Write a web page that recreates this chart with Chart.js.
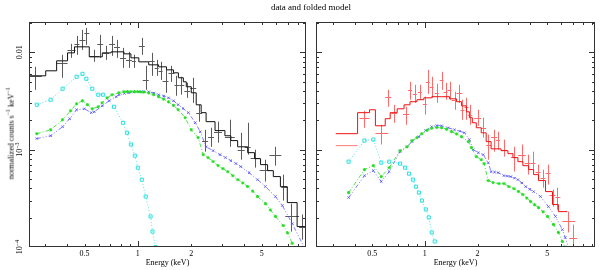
<!DOCTYPE html>
<html>
<head>
<meta charset="utf-8">
<script src="https://cdn.jsdelivr.net/npm/chart.js@4.4.1/dist/chart.umd.min.js"></script>
<style>
  html, body { margin: 0; padding: 0; background: #fff; }
  #wrap { position: relative; width: 606px; height: 270px; overflow: hidden; }
  canvas { position: absolute; top: 0; }
  #left { left: 0; }
  #right { left: 311px; }
  .title { position: absolute; left: 0; width: 622px; top: 2px; text-align: center;
           font: 9px "Liberation Serif", serif; color: #000; }
  .ylab { position: absolute; left: -70px; top: 128px; width: 160px; text-align: center;
          transform: rotate(-90deg); font: 8px "Liberation Serif", serif; color: #000; white-space: nowrap; }
  .ylab sup { font-size: 6px; }
</style>
</head>
<body>
<div id="wrap">
  <canvas id="left" width="311" height="270"></canvas>
  <canvas id="right" width="295" height="270"></canvas>
  <div class="title">data and folded model</div>
  <div class="ylab">normalized counts s<sup>−1</sup> keV<sup>−1</sup></div>
</div>
<script>
// axis ranges and tick labels
const yRange = [1.0e-4, 0.0205];
const leftXRange = [0.243, 8.9];
const rightXRange = [0.239, 9.37];
const xTickLabels = [0.5, 1, 2, 5];
const yTickLabels = [0.01, 0.001, 0.0001];

// ---- left panel: black spectrum ----
const blackE = [0.262, 0.371, 0.422, 0.451, 0.486, 0.512, 0.568, 0.614, 0.662, 0.716, 0.764, 0.824, 0.891, 0.950, 1.053, 1.108, 1.197, 1.277, 1.345, 1.433, 1.549, 1.651, 1.761, 1.902, 2.055, 2.22, 2.399, 2.59, 2.835, 3.308, 3.81, 4.17, 4.56, 5.19, 5.98, 6.62, 7.34, 8.46];
const blackElo = [0.243, 0.348, 0.401, 0.439, 0.468, 0.499, 0.532, 0.590, 0.637, 0.689, 0.734, 0.793, 0.857, 0.926, 1.013, 1.066, 1.152, 1.245, 1.31, 1.379, 1.49, 1.61, 1.717, 1.830, 1.977, 2.136, 2.307, 2.493, 2.692, 3.102, 3.66, 4.01, 4.33, 4.87, 5.53, 6.46, 6.80, 8.14];
const blackEhi = [0.287, 0.401, 0.445, 0.468, 0.506, 0.532, 0.606, 0.637, 0.689, 0.744, 0.793, 0.857, 0.926, 0.975, 1.094, 1.152, 1.245, 1.31, 1.379, 1.49, 1.61, 1.717, 1.830, 1.977, 2.136, 2.307, 2.493, 2.692, 2.985, 3.528, 4.01, 4.33, 4.87, 5.53, 6.46, 6.98, 8.14, 9.02];
const blackRate = [0.00574, 0.00780, 0.01061, 0.01223, 0.01344, 0.01585, 0.00921, 0.01223, 0.00988, 0.01223, 0.01139, 0.00878, 0.00838, 0.00818, 0.01166, 0.00522, 0.00818, 0.00693, 0.00646, 0.00510, 0.00616, 0.00464, 0.00464, 0.00403, 0.00432, 0.00240, 0.00124, 0.00136, 0.00153, 0.00136, 0.00100, 0.00107, 0.000828, 0.000624, 0.000889, 0.000417, 0.000206, 0.000162];
const blackRateHi = [0.00710, 0.00943, 0.01223, 0.01476, 0.01702, 0.01784, 0.01061, 0.01512, 0.01166, 0.01476, 0.01344, 0.01112, 0.01012, 0.00943, 0.01408, 0.00727, 0.00988, 0.00838, 0.00799, 0.00661, 0.00727, 0.00574, 0.00561, 0.00487, 0.00548, 0.00289, 0.00160, 0.00168, 0.00194, 0.00203, 0.00149, 0.00189, 0.00100, 0.000789, 0.00107, 0.000554, 0.000279, 0.000216];
const blackRateLo = [0.00412, 0.00548, 0.00878, 0.00943, 0.01061, 0.01194, 0.00799, 0.00878, 0.00838, 0.00921, 0.00878, 0.00693, 0.00693, 0.00693, 0.00943, 0.00412, 0.00574, 0.00574, 0.00522, 0.00384, 0.00498, 0.00358, 0.00367, 0.00341, 0.00303, 0.00194, 0.000954, 0.00107, 0.00118, 0.00107, 0.000789, 0.000889, 0.000654, 0.000470, 0.000685, 0.000300, 0.000144, 0.000119];

const blackModelEdges = [0.243, 0.302, 0.348, 0.401, 0.439, 0.532, 0.630, 0.707, 0.835, 0.914, 1.013, 1.152, 1.31, 1.452, 1.589, 1.694, 1.807, 1.878, 2.003, 2.136, 2.278, 2.429, 2.728, 3.102, 3.35, 3.66, 4.17, 4.56, 4.93, 5.40, 5.82, 6.38, 6.98, 7.93, 9.02];
const blackModelRate = [0.00574, 0.00646, 0.00818, 0.00988, 0.01139, 0.00899, 0.00988, 0.01012, 0.00965, 0.00878, 0.00799, 0.00744, 0.00710, 0.00661, 0.00616, 0.00548, 0.00498, 0.00443, 0.00384, 0.00289, 0.00240, 0.00194, 0.00157, 0.00139, 0.00124, 0.00107, 0.000932, 0.000809, 0.000702, 0.000609, 0.000529, 0.000417, 0.000286, 0.000162];

const cyanLeftE = [0.269, 0.322, 0.376, 0.451, 0.487, 0.512, 0.553, 0.598, 0.637, 0.734, 0.824, 0.868, 0.914, 0.962, 1.0, 1.053, 1.108, 1.18, 1.21, 1.26];
const cyanLeftRate = [0.00290, 0.00326, 0.00423, 0.00561, 0.00601, 0.00535, 0.00423, 0.00367, 0.00367, 0.00276, 0.00189, 0.00149, 0.00113, 0.000868, 0.000653, 0.000492, 0.000330, 0.000206, 0.000144, 0.0001];

const greenLeftE = [0.269, 0.322, 0.376, 0.417, 0.451, 0.487, 0.519, 0.553, 0.598, 0.629, 0.671, 0.716, 0.783, 0.835, 0.874, 0.914, 0.957, 1.0, 1.04, 1.08, 1.152, 1.23, 1.31, 1.40, 1.49, 1.59, 1.69, 1.85, 2.003, 2.19, 2.34, 2.49, 2.66, 2.84, 3.02, 3.22, 3.44, 3.67, 3.91, 4.17, 4.45, 4.74, 5.25, 5.60, 5.98, 6.62, 7.0, 7.44];
const greenLeftRate = [0.00146, 0.00160, 0.00203, 0.00251, 0.00296, 0.00318, 0.00290, 0.00263, 0.00276, 0.00303, 0.00341, 0.00367, 0.00385, 0.00394, 0.00395, 0.00395, 0.00395, 0.00394, 0.00392, 0.00390, 0.00382, 0.00367, 0.00350, 0.00330, 0.00310, 0.00285, 0.00257, 0.00213, 0.00160, 0.00133, 0.000889, 0.000828, 0.000755, 0.000686, 0.000640, 0.000594, 0.000540, 0.000492, 0.000455, 0.000418, 0.000375, 0.000330, 0.000279, 0.000240, 0.000206, 0.000166, 0.000140, 0.000109];

const blueLeftE = [0.269, 0.322, 0.376, 0.412, 0.451, 0.499, 0.546, 0.568, 0.630, 0.689, 0.754, 0.783, 0.840, 0.891, 0.95, 1.013, 1.08, 1.152, 1.23, 1.31, 1.40, 1.49, 1.59, 1.69, 1.80, 1.93, 2.11, 2.25, 2.43, 2.66, 2.91, 3.12, 3.35, 3.58, 3.81, 4.25, 4.74, 5.25, 5.98, 6.54, 7.44, 8.68];
const blueLeftRate = [0.00130, 0.00139, 0.00172, 0.00208, 0.00257, 0.00263, 0.00240, 0.00245, 0.00282, 0.00318, 0.00350, 0.00367, 0.00378, 0.00385, 0.00390, 0.00394, 0.00395, 0.00394, 0.00382, 0.00367, 0.00355, 0.00341, 0.00318, 0.00290, 0.00265, 0.00240, 0.00189, 0.00153, 0.00107, 0.000977, 0.000889, 0.000830, 0.000771, 0.000720, 0.000670, 0.000580, 0.000492, 0.000418, 0.000330, 0.000267, 0.000174, 0.0001];

// ---- right panel: red spectrum ----
const redE = [0.452, 0.564, 0.618, 0.668, 0.781, 0.823, 0.878, 0.937, 1.0, 1.040, 1.095, 1.169, 1.247, 1.314, 1.384, 1.477, 1.577, 1.64, 1.727, 1.82, 2.019, 2.154, 2.30, 2.486, 2.62, 2.83, 3.225, 3.578, 3.87, 4.13, 4.41, 4.70, 5.02, 5.36, 5.71, 6.60, 7.04];
const redElo = [0.424, 0.522, 0.594, 0.643, 0.751, 0.802, 0.855, 0.913, 0.974, 1.013, 1.067, 1.139, 1.215, 1.28, 1.349, 1.42, 1.516, 1.597, 1.683, 1.772, 1.916, 2.099, 2.24, 2.39, 2.552, 2.723, 3.10, 3.40, 3.72, 4.02, 4.29, 4.58, 4.89, 5.15, 5.57, 6.10, 6.68];
const redEhi = [0.483, 0.618, 0.643, 0.695, 0.812, 0.845, 0.901, 0.962, 1.026, 1.067, 1.124, 1.2, 1.28, 1.349, 1.42, 1.516, 1.64, 1.683, 1.772, 1.867, 2.099, 2.24, 2.39, 2.585, 2.688, 2.944, 3.353, 3.77, 4.02, 4.29, 4.58, 4.89, 5.22, 5.57, 5.94, 7.22, 7.41];
const redRate = [0.00213, 0.00149, 0.00350, 0.00240, 0.00234, 0.00412, 0.00375, 0.00394, 0.00296, 0.00498, 0.00443, 0.00384, 0.00522, 0.00394, 0.00412, 0.00326, 0.00384, 0.00257, 0.00276, 0.00229, 0.00213, 0.00168, 0.00113, 0.00136, 0.00127, 0.00100, 0.000848, 0.000889, 0.000736, 0.000736, 0.000595, 0.000516, 0.000581, 0.000346, 0.000330, 0.000183, 0.000125];
const redRateHi = [0.00251, 0.00180, 0.00412, 0.00289, 0.00276, 0.00498, 0.00464, 0.00464, 0.00350, 0.00661, 0.00561, 0.00475, 0.00631, 0.00487, 0.00498, 0.00394, 0.00464, 0.00326, 0.00341, 0.00289, 0.00257, 0.00213, 0.00143, 0.00160, 0.00153, 0.00127, 0.00107, 0.00113, 0.000889, 0.000954, 0.000702, 0.000624, 0.000702, 0.000389, 0.000407, 0.000231, 0.000170];
const redRateLo = [0.00168, 0.00113, 0.00276, 0.00189, 0.00180, 0.00326, 0.00303, 0.00326, 0.00229, 0.00375, 0.00341, 0.00303, 0.00412, 0.00326, 0.00326, 0.00257, 0.00303, 0.00203, 0.00203, 0.00180, 0.00176, 0.00133, 0.000789, 0.000954, 0.00100, 0.000848, 0.000595, 0.000736, 0.000554, 0.000624, 0.000516, 0.000407, 0.000438, 0.000260, 0.000242, 0.000141, 0.0000745];

const redModelEdges = [0.310, 0.413, 0.483, 0.522, 0.594, 0.634, 0.695, 0.761, 0.823, 0.901, 0.987, 1.095, 1.247, 1.384, 1.516, 1.618, 1.727, 1.796, 1.867, 1.967, 2.099, 2.24, 2.39, 2.723, 2.983, 3.184, 3.40, 3.63, 3.92, 4.18, 4.46, 4.89, 5.36, 5.79, 6.51];
const redModelRate = [0.00146, 0.00240, 0.00257, 0.00176, 0.00208, 0.00240, 0.00263, 0.00289, 0.00311, 0.00326, 0.00341, 0.00350, 0.00350, 0.00333, 0.00311, 0.00282, 0.00245, 0.00213, 0.00189, 0.00168, 0.00149, 0.00121, 0.00102, 0.000977, 0.000910, 0.000828, 0.000753, 0.000685, 0.000624, 0.000554, 0.000481, 0.000371, 0.000273, 0.000231];
const redModel2Edges = [0.310, 0.413];
const redModel2Rate = [0.00110];

const cyanRightE = [0.367, 0.452, 0.508, 0.564, 0.626, 0.722, 0.771, 0.812, 0.855, 0.889, 0.925, 0.962, 1.013, 1.053, 1.095, 1.139];
const cyanRightRate = [0.000753, 0.00124, 0.00127, 0.000736, 0.000753, 0.000719, 0.000654, 0.000567, 0.000492, 0.000417, 0.000362, 0.000300, 0.000243, 0.000201, 0.000141, 0.000114];

const greenRightE = [0.367, 0.452, 0.508, 0.564, 0.626, 0.722, 0.791, 0.845, 0.901, 0.962, 1.03, 1.095, 1.17, 1.247, 1.33, 1.42, 1.52, 1.618, 1.772, 1.843, 1.967, 2.099, 2.18, 2.30, 2.454, 2.653, 2.83, 3.02, 3.225, 3.42, 3.63, 3.82, 4.02, 4.23, 4.46, 4.74, 5.02, 5.43, 5.79, 6.10, 6.30];
const greenRightRate = [0.000362, 0.000624, 0.000685, 0.000529, 0.000654, 0.000977, 0.00107, 0.00124, 0.00133, 0.00146, 0.00158, 0.00166, 0.00169, 0.00168, 0.00162, 0.00153, 0.00145, 0.00136, 0.00121, 0.00105, 0.000848, 0.000789, 0.000719, 0.000481, 0.000459, 0.000448, 0.000448, 0.000417, 0.000398, 0.000372, 0.000346, 0.000318, 0.000293, 0.000272, 0.000254, 0.000230, 0.000206, 0.000170, 0.000141, 0.000114, 0.0001];

const blueRightE = [0.367, 0.452, 0.508, 0.564, 0.626, 0.722, 0.791, 0.845, 0.925, 1.01, 1.095, 1.17, 1.247, 1.36, 1.477, 1.58, 1.683, 1.796, 1.891, 2.019, 2.154, 2.30, 2.39, 2.50, 2.62, 2.83, 2.96, 3.10, 3.25, 3.40, 3.58, 3.77, 3.97, 4.18, 4.58, 5.08, 5.57, 6.10, 6.34, 6.60];
const blueRightRate = [0.000322, 0.000541, 0.000609, 0.000470, 0.000595, 0.000954, 0.00107, 0.00121, 0.00136, 0.00158, 0.00172, 0.00177, 0.00176, 0.00168, 0.00160, 0.00155, 0.00149, 0.00127, 0.00100, 0.000932, 0.000889, 0.000736, 0.000595, 0.000588, 0.000581, 0.000541, 0.000535, 0.000529, 0.000510, 0.000492, 0.000455, 0.000417, 0.000392, 0.000371, 0.000330, 0.000260, 0.000206, 0.000151, 0.000125, 0.0001];

// helpers to turn the arrays into chart points
function points(xs, ys) {
    return xs.map((x, i) => ({ x: x, y: ys[i] }));
}
function steps(edges, rates) {
    return edges.map((e, i) => ({ x: e, y: rates[Math.min(i, rates.length - 1)] }));
}

function dataSet(xs, ys, elo, ehi, rlo, rhi, color) {
    return {
        data: points(xs, ys),
        pointRadius: 0,
        showLine: false,
        bars: { elo: elo, ehi: ehi, rlo: rlo, rhi: rhi, color: color }
    };
}
function modelSet(edges, rates, color) {
    return {
        data: steps(edges, rates),
        showLine: true,
        stepped: 'before',
        borderColor: color,
        borderWidth: 1,
        pointRadius: 0
    };
}
function compSet(xs, ys, color, style, dash, fill) {
    return {
        data: points(xs, ys),
        showLine: true,
        borderColor: color,
        borderWidth: 0.8,
        borderDash: dash,
        pointStyle: style,
        pointRadius: style === 'rect' ? 2.2 : 1.6,
        pointBorderColor: color,
        pointBorderWidth: 1,
        pointBackgroundColor: fill ? color : 'rgba(0,0,0,0)'
    };
}

// error bars (crosses) from the dataset's bar arrays
const errorBars = {
    id: 'errorBars',
    beforeDatasetsDraw(chart) {
        const { ctx, chartArea: a, scales: { x, y } } = chart;
        ctx.save();
        ctx.beginPath();
        ctx.rect(a.left, a.top, a.right - a.left, a.bottom - a.top);
        ctx.clip();
        chart.data.datasets.forEach(ds => {
            if (!ds.bars) return;
            const b = ds.bars;
            ctx.strokeStyle = b.color;
            ctx.lineWidth = 1;
            ctx.beginPath();
            ds.data.forEach((p, i) => {
                const px = Math.round(x.getPixelForValue(p.x)) + 0.5;
                const py = Math.round(y.getPixelForValue(p.y)) + 0.5;
                ctx.moveTo(x.getPixelForValue(b.elo[i]), py);
                ctx.lineTo(x.getPixelForValue(b.ehi[i]), py);
                ctx.moveTo(px, y.getPixelForValue(b.rhi[i]));
                ctx.lineTo(px, y.getPixelForValue(b.rlo[i]));
            });
            ctx.stroke();
        });
        ctx.restore();
    }
};

// box, inward ticks on all sides, tick labels and axis title
const frame = {
    id: 'frame',
    afterDraw(chart, args, opts) {
        const { ctx, chartArea: a, scales: { x, y } } = chart;
        ctx.save();
        ctx.strokeStyle = '#333';
        ctx.lineWidth = 1;
        ctx.strokeRect(a.left + 0.5, a.top + 0.5, a.right - a.left - 1, a.bottom - a.top - 1);
        ctx.beginPath();
        for (let e = -1; e <= 1; e++) {
            for (let m = 1; m <= 9; m++) {
                const v = m * Math.pow(10, e);
                if (v <= x.min || v >= x.max) continue;
                const px = Math.round(x.getPixelForValue(v)) + 0.5;
                const len = m === 1 ? 6 : 3;
                ctx.moveTo(px, a.bottom); ctx.lineTo(px, a.bottom - len);
                ctx.moveTo(px, a.top); ctx.lineTo(px, a.top + len);
            }
        }
        for (let e = -5; e <= -2; e++) {
            for (let m = 1; m <= 9; m++) {
                const v = m * Math.pow(10, e);
                if (v <= y.min * 1.001 || v >= y.max) continue;
                const py = Math.round(y.getPixelForValue(v)) + 0.5;
                const len = m === 1 ? 6 : 3;
                ctx.moveTo(a.left, py); ctx.lineTo(a.left + len, py);
                ctx.moveTo(a.right, py); ctx.lineTo(a.right - len, py);
            }
        }
        ctx.stroke();

        ctx.fillStyle = '#000';
        ctx.font = '8px "Liberation Serif", serif';
        ctx.textAlign = 'center';
        ctx.textBaseline = 'middle';
        xTickLabels.forEach(v => {
            ctx.fillText(String(v), x.getPixelForValue(v), a.bottom + 7);
        });
        ctx.fillText('Energy (keV)', (a.left + a.right) / 2, a.bottom + 16);

        if (opts.yLabels) {
            yTickLabels.forEach(v => {
                const py = y.getPixelForValue(v);
                ctx.save();
                ctx.translate(a.left - 9, py);
                ctx.rotate(-Math.PI / 2);
                if (v === 0.01) {
                    ctx.fillText('0.01', 0, 0);
                } else {
                    const expo = '\u2212' + Math.round(-Math.log10(v));
                    ctx.font = '8px "Liberation Serif", serif';
                    const w1 = ctx.measureText('10').width;
                    ctx.font = '6px "Liberation Serif", serif';
                    const w2 = ctx.measureText(expo).width;
                    const x0 = -(w1 + w2) / 2;
                    ctx.textAlign = 'left';
                    ctx.font = '8px "Liberation Serif", serif';
                    ctx.fillText('10', x0, 0);
                    ctx.font = '6px "Liberation Serif", serif';
                    ctx.fillText(expo, x0 + w1, -3);
                }
                ctx.restore();
            });
        }
        ctx.restore();
    }
};

function makeChart(id, datasets, xRange, pad, yLabels) {
    return new Chart(document.getElementById(id), {
        type: 'scatter',
        data: { datasets: datasets },
        options: {
            responsive: false,
            animation: false,
            layout: { padding: pad },
            plugins: {
                legend: { display: false },
                tooltip: { enabled: false },
                frame: { yLabels: yLabels }
            },
            scales: {
                x: { type: 'logarithmic', min: xRange[0], max: xRange[1], display: false },
                y: { type: 'logarithmic', min: yRange[0], max: yRange[1], display: false }
            }
        },
        plugins: [errorBars, frame]
    });
}

const cyan = '#2fe0e0', green = '#22dd22', blue = '#5a5aff';

makeChart('left', [
    dataSet(blackE, blackRate, blackElo, blackEhi, blackRateLo, blackRateHi, '#5a5a5a'),
    modelSet(blackModelEdges, blackModelRate, '#111'),
    compSet(cyanLeftE, cyanLeftRate, cyan, 'rect', [1, 2], false),
    compSet(greenLeftE, greenLeftRate, green, 'star', [4, 2, 1, 2], true),
    compSet(blueLeftE, blueLeftRate, blue, 'crossRot', [4, 2, 1, 2, 1, 2], false)
], leftXRange, { left: 29, right: 2, top: 22, bottom: 23 }, true);

makeChart('right', [
    dataSet(redE, redRate, redElo, redEhi, redRateLo, redRateHi, '#ff6a6a'),
    modelSet(redModelEdges, redModelRate, '#ee1111'),
    modelSet(redModel2Edges, redModel2Rate, '#ff7a7a'),
    compSet(cyanRightE, cyanRightRate, cyan, 'rect', [1, 2], false),
    compSet(greenRightE, greenRightRate, green, 'star', [4, 2, 1, 2], true),
    compSet(blueRightE, blueRightRate, blue, 'crossRot', [4, 2, 1, 2, 1, 2], false)
], rightXRange, { left: 2, right: 11, top: 22, bottom: 23 }, false);
</script>
</body>
</html>
